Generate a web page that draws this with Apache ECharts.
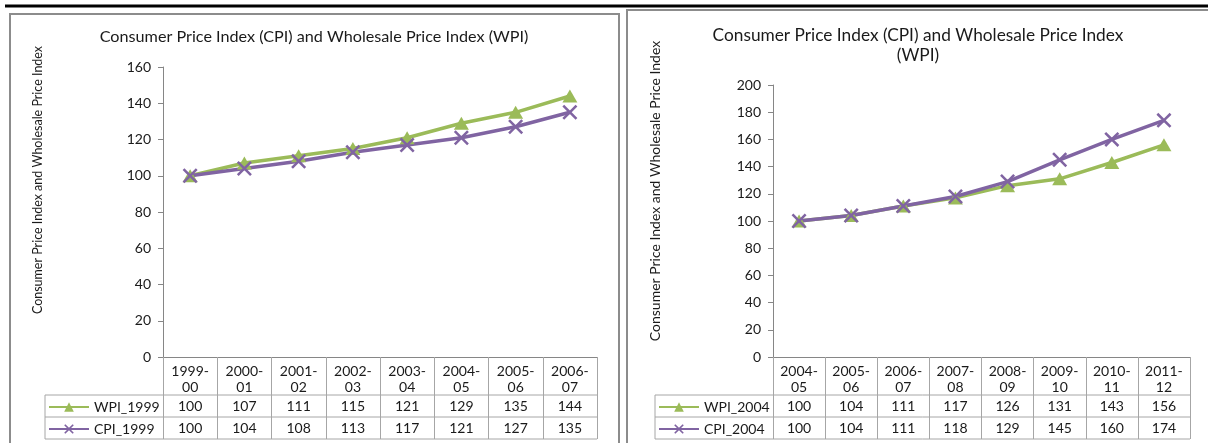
<!DOCTYPE html>
<html><head><meta charset="utf-8">
<script src="https://cdn.jsdelivr.net/npm/echarts@6/dist/echarts.min.js"></script>
<style>html,body{margin:0;padding:0;background:#fff}#c{width:1208px;height:443px}</style>
</head><body><div id="c"></div>
<script>
// ---- data ----
const years1999 = ['1999-00','2000-01','2001-02','2002-03','2003-04','2004-05','2005-06','2006-07'];
const wpi1999 = [100,107,111,115,121,129,135,144];
const cpi1999 = [100,104,108,113,117,121,127,135];
const years2004 = ['2004-05','2005-06','2006-07','2007-08','2008-09','2009-10','2010-11','2011-12'];
const wpi2004 = [100,104,111,117,126,131,143,156];
const cpi2004 = [100,104,111,118,129,145,160,174];
const yScaleLeft = [0,160,20];   // min, max, interval
const yScaleRight = [0,200,20];
const titleLeft = 'Consumer Price Index (CPI) and Wholesale Price Index (WPI)';
const titleRight = 'Consumer Price Index (CPI) and Wholesale Price Index\n(WPI)';
const yName = 'Consumer Price Index and Wholesale Price Index';
const seriesNames = ['WPI_1999','CPI_1999','WPI_2004','CPI_2004'];

// ---- style ----
const FONT = 'Lato';
const GREEN = '#9BBB59', PURPLE = '#8064A2';
const AXIS = '#868686', TABLE = '#a6a6a6', TXT = '#1a1a1a';
const XSYM = 'path://M0,1.2 L1.2,0 L5,3.8 L8.8,0 L10,1.2 L6.2,5 L10,8.8 L8.8,10 L5,6.2 L1.2,10 L0,8.8 L3.8,5 Z';
const FS = 14;

const chart = echarts.init(document.getElementById('c'), null, {renderer:'canvas'});

function headerAxis(grid, cats){
  return {type:'category', gridIndex:grid, data:cats, boundaryGap:true,
    axisLine:{show:true, lineStyle:{color:AXIS, width:1}},
    axisTick:{show:true, interval:0, length:82, lineStyle:{color:TABLE, width:1}},
    axisLabel:{interval:0, margin:6, fontFamily:FONT, fontSize:FS, lineHeight:16, color:TXT,
      formatter:v=>v.replace('-','-\n')},
    splitLine:{show:false}};
}
function rowAxis(grid, cats, vals, off, margin){
  return {type:'category', gridIndex:grid, data:cats, boundaryGap:true, position:'bottom', offset:off,
    axisLine:{show:false}, axisTick:{show:false}, splitLine:{show:false},
    axisLabel:{interval:0, margin:margin, fontFamily:FONT, fontSize:FS, lineHeight:16, color:TXT,
      formatter:(v,i)=>String(vals[i])}};
}
function yAxis(grid, sc){
  return {type:'value', gridIndex:grid, min:sc[0], max:sc[1], interval:sc[2],
    axisLine:{show:true, lineStyle:{color:AXIS}}, axisTick:{show:true, length:5, lineStyle:{color:AXIS}},
    splitLine:{show:false},
    axisLabel:{margin:12, fontFamily:FONT, fontSize:FS, color:TXT}};
}
function wpiSeries(name, x, y, data){
  return {name, type:'line', xAxisIndex:x, yAxisIndex:y, data, symbol:'triangle', symbolSize:[15,13],
    lineStyle:{color:GREEN, width:3.5}, itemStyle:{color:GREEN}, emphasis:{disabled:true}};
}
function cpiSeries(name, x, y, data){
  return {name, type:'line', xAxisIndex:x, yAxisIndex:y, data, symbol:XSYM, symbolSize:15,
    lineStyle:{color:PURPLE, width:3.5}, itemStyle:{color:PURPLE}, emphasis:{disabled:true}};
}
function legendAt(name, left, top){
  return {data:[name], left, top, itemWidth:40, itemHeight:12, itemGap:5, padding:0,
    selectedMode:false, textStyle:{fontFamily:FONT, fontSize:FS, color:TXT}};
}
function hline(x1,x2,y){return {type:'line', shape:{x1,y1:y,x2,y2:y}, style:{stroke:TABLE, lineWidth:1}, silent:true};}
function vline(x,y1,y2){return {type:'line', shape:{x1:x,y1,x2:x,y2}, style:{stroke:TABLE, lineWidth:1}, silent:true};}

const option = {
  animation:false,
  backgroundColor:'#fff',
  title:[
    {text:titleLeft, left:314, top:28, textAlign:'center', padding:0,
      textStyle:{fontFamily:FONT, fontSize:16.2, fontWeight:'normal', color:TXT, lineHeight:18}},
    {text:titleRight, left:918, top:25, textAlign:'center', padding:0,
      textStyle:{fontFamily:FONT, fontSize:17.3, fontWeight:'normal', color:TXT, lineHeight:20}}
  ],
  legend:[
    legendAt(seriesNames[0], 48, 400),
    legendAt(seriesNames[1], 48, 422),
    legendAt(seriesNames[2], 658, 400),
    legendAt(seriesNames[3], 658, 422)
  ],
  grid:[
    {left:163, right:1208-597, top:67, bottom:443-357},
    {left:773, right:1208-1190, top:85, bottom:443-357}
  ],
  xAxis:[
    headerAxis(0, years1999),
    rowAxis(0, years1999, wpi1999, 38, 3),
    rowAxis(0, years1999, cpi1999, 60, 3),
    headerAxis(1, years2004),
    rowAxis(1, years2004, wpi2004, 38, 3),
    rowAxis(1, years2004, cpi2004, 60, 3)
  ],
  yAxis:[ yAxis(0, yScaleLeft), yAxis(1, yScaleRight) ],
  series:[
    wpiSeries(seriesNames[0], 0, 0, wpi1999),
    cpiSeries(seriesNames[1], 0, 0, cpi1999),
    wpiSeries(seriesNames[2], 3, 1, wpi2004),
    cpiSeries(seriesNames[3], 3, 1, cpi2004)
  ],
  graphic:[
    {type:'line', shape:{x1:5,y1:6,x2:1208,y2:6}, style:{stroke:'#000', lineWidth:3}, silent:true},
    {type:'rect', shape:{x:10,y:14,width:609,height:460}, style:{stroke:'#8c8c8c', fill:null, lineWidth:2}, silent:true},
    {type:'polyline', shape:{points:[[627,460],[627,10],[1212,10]]}, style:{stroke:'#8c8c8c', fill:null, lineWidth:2}, silent:true},
    hline(45,597,395), hline(45,597,417), hline(45,597,439), vline(45,395,439),
    hline(655,1190,395), hline(655,1190,417), hline(655,1190,439), vline(655,395,439),
    {type:'text', x:38, y:180, rotation:Math.PI/2, silent:true,
      style:{text:yName, fontFamily:FONT, fontSize:12.5, fill:TXT, align:'center', verticalAlign:'middle'}},
    {type:'text', x:655, y:191, rotation:Math.PI/2, silent:true,
      style:{text:yName, fontFamily:FONT, fontSize:14, fill:TXT, align:'center', verticalAlign:'middle'}}
  ]
};
chart.setOption(option);
</script></body></html>
